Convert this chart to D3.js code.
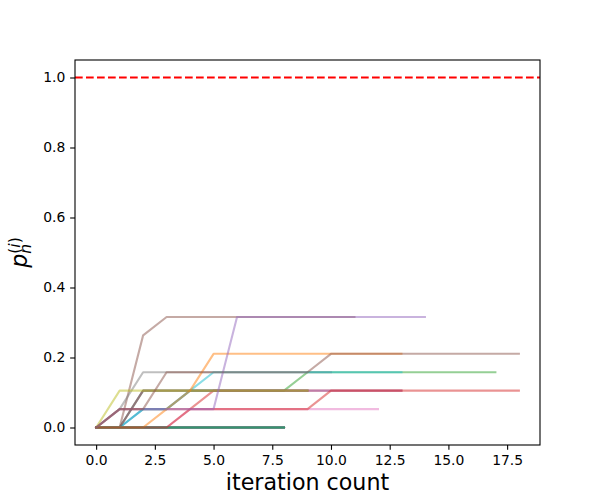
<!DOCTYPE html>
<html>
<head>
<meta charset="utf-8">
<script src="https://cdn.jsdelivr.net/npm/d3@7"></script>
<style>
  body { margin: 0; background: #fff; }
  svg { font-family: "DejaVu Sans", sans-serif; }
</style>
</head>
<body>
<svg width="600" height="500"></svg>
<script>
// p_n values per run, one value per iteration
const runBlue    = [0, 0, 0.0526, 0.0526, 0.1053, 0.1053, 0.1053, 0.1053, 0.1053, 0.1053];
const runZero    = [0, 0, 0, 0, 0, 0, 0, 0, 0];
const runRedA    = [0, 0.0526, 0.0526, 0.0526, 0.0526, 0.1053, 0.1053, 0.1053, 0.1053, 0.1053, 0.1053, 0.1053, 0.1053, 0.1053];
const runPurpleA = [0, 0.0526, 0.0526, 0.0526, 0.0526, 0.0526, 0.3158, 0.3158, 0.3158, 0.3158, 0.3158, 0.3158, 0.3158, 0.3158, 0.3158];
const runBrownA  = [0, 0, 0.2632, 0.3158, 0.3158, 0.3158, 0.3158, 0.3158, 0.3158, 0.3158, 0.3158, 0.3158];
const runPink    = [0, 0, 0, 0, 0.0526, 0.0526, 0.0526, 0.0526, 0.0526, 0.0526, 0.0526, 0.0526, 0.0526];
const runGray    = [0, 0.0526, 0.1579, 0.1579, 0.1579, 0.1579, 0.1579, 0.1579, 0.1579, 0.1579, 0.1579];
const runOlive   = [0, 0.1053, 0.1053, 0.1053, 0.1053, 0.1053, 0.1053, 0.1053, 0.1053, 0.1053];
const runCyan    = [0, 0, 0.0526, 0.0526, 0.1053, 0.1579, 0.1579, 0.1579, 0.1579, 0.1579, 0.1579, 0.1579, 0.1579, 0.1579];
const runBrownB  = [0, 0.0526, 0.0526, 0.1579, 0.1579, 0.1579, 0.1579, 0.1579, 0.1579, 0.1579, 0.2105, 0.2105, 0.2105, 0.2105, 0.2105, 0.2105, 0.2105, 0.2105, 0.2105];
const runOrange  = [0, 0, 0, 0.0526, 0.1053, 0.2105, 0.2105, 0.2105, 0.2105, 0.2105, 0.2105, 0.2105, 0.2105, 0.2105];
const runGreen   = [0, 0, 0.1053, 0.1053, 0.1053, 0.1053, 0.1053, 0.1053, 0.1053, 0.1579, 0.1579, 0.1579, 0.1579, 0.1579, 0.1579, 0.1579, 0.1579, 0.1579];
const runRedB    = [0, 0, 0, 0, 0.0526, 0.0526, 0.0526, 0.0526, 0.0526, 0.0526, 0.1053, 0.1053, 0.1053, 0.1053, 0.1053, 0.1053, 0.1053, 0.1053, 0.1053];
const runPurpleB = [0, 0, 0.1053, 0.1053, 0.1053, 0.1053, 0.1053, 0.1053, 0.1053, 0.1053, 0.1053, 0.1053, 0.1053, 0.1053];
const runBrownC  = [0, 0, 0.1053, 0.1053, 0.1053, 0.1053, 0.1053, 0.1053, 0.1053, 0.1053];

// plotting order, the colour cycle follows this order
const runs = [
    runBlue, runZero, runGreen, runRedA, runPurpleB, runBrownA, runPink, runGray, runZero, runCyan,
    runZero, runZero, runZero, runZero, runZero, runBrownC, runZero, runZero, runOlive, runZero,
    runZero, runOrange, runZero, runRedB, runPurpleA, runBrownB
];

const thresholdValue = 1.0;
const xTicks = [0, 2.5, 5, 7.5, 10, 12.5, 15, 17.5];
const yTicks = [0, 0.2, 0.4, 0.6, 0.8, 1.0];

const svg = d3.select('svg');
const width = +svg.attr('width');
const height = +svg.attr('height');
const margin = { top: 60, right: 60, bottom: 55, left: 75 };
const innerWidth = width - margin.left - margin.right;
const innerHeight = height - margin.top - margin.bottom;

//5% padding like matplotlib
const xScale = d3.scaleLinear()
    .domain([-0.9, 18.9])
    .range([0, innerWidth]);
const yScale = d3.scaleLinear()
    .domain([-0.05, 1.05])
    .range([innerHeight, 0]);

const color = d3.scaleOrdinal().range(d3.schemeCategory10);

const g = svg.append('g')
    .attr('transform', `translate(${margin.left}, ${margin.top})`);

//one line per run
const line = d3.line()
    .x((d, i) => xScale(i))
    .y(d => yScale(d));

g.append('g')
    .selectAll('path')
    .data(runs)
    .join('path')
    .attr('d', line)
    .attr('fill', 'none')
    .attr('stroke', (d, i) => color(i))
    .attr('stroke-opacity', 0.5)
    .attr('stroke-width', 2.08)
    .attr('stroke-linejoin', 'round')
    .attr('stroke-linecap', 'square');

//red dashed line at p = 1
g.append('line')
    .attr('x1', 0)
    .attr('x2', innerWidth)
    .attr('y1', yScale(thresholdValue))
    .attr('y2', yScale(thresholdValue))
    .attr('stroke', '#ff0000')
    .attr('stroke-width', 2.08)
    .attr('stroke-dasharray', '7.7,3.3');

//axes
const xAxis = g.append('g')
    .attr('transform', `translate(0, ${innerHeight})`)
    .call(d3.axisBottom(xScale)
        .tickValues(xTicks)
        .tickFormat(d3.format('.1f'))
        .tickSize(4.86)
        .tickPadding(4.86));
const yAxis = g.append('g')
    .call(d3.axisLeft(yScale)
        .tickValues(yTicks)
        .tickFormat(d3.format('.1f'))
        .tickSize(4.86)
        .tickPadding(4.86));

[xAxis, yAxis].forEach(ax => {
    ax.attr('font-family', '"DejaVu Sans", sans-serif')
        .attr('font-size', 13.9);
    ax.select('.domain').remove();
    ax.selectAll('line').attr('stroke', '#000').attr('stroke-width', 1.1);
    ax.selectAll('text').attr('fill', '#000');
});

//frame around the plot
g.append('rect')
    .attr('width', innerWidth)
    .attr('height', innerHeight)
    .attr('fill', 'none')
    .attr('stroke', '#000')
    .attr('stroke-width', 1.1);

//x label
svg.append('text')
    .attr('x', margin.left + innerWidth / 2)
    .attr('y', 490)
    .attr('text-anchor', 'middle')
    .attr('font-size', 22.2)
    .attr('fill', '#000')
    .text('iteration count');

//y label, p_n^(i)
const ylab = svg.append('g')
    .attr('transform', `translate(27, ${margin.top + innerHeight / 2}) rotate(-90)`)
    .attr('fill', '#000');
ylab.append('text')
    .attr('x', -15.2)
    .attr('font-size', 22.2)
    .attr('font-style', 'italic')
    .text('p');
ylab.append('text')
    .attr('x', -1.2)
    .attr('y', 3.5)
    .attr('font-size', 15.5)
    .attr('font-style', 'italic')
    .text('n');
const sup = ylab.append('text')
    .attr('x', -1.2)
    .attr('y', -7)
    .attr('font-size', 15.5);
sup.append('tspan').text('(');
sup.append('tspan').attr('font-style', 'italic').text('i');
sup.append('tspan').text(')');
</script>
</body>
</html>
